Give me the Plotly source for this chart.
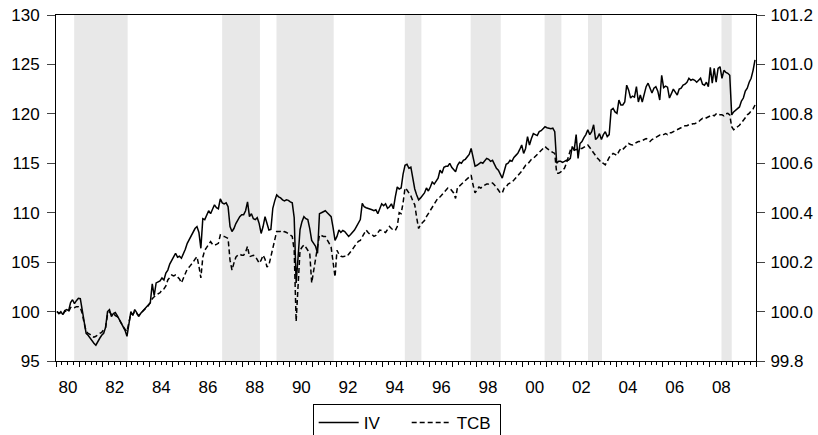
import plotly.graph_objects as go

# Monthly series, 1980M1 .. 2009M12 (one row per year)
iv = [
    100.0, 99.8, 100.0, 99.7, 100.1, 100.2, 100.1, 100.9, 101.2, 100.8, 101.1, 101.35,   # 1980
    101.3, 100.0, 98.8, 97.8, 97.6, 97.3, 97.0, 96.8, 96.6, 97.0, 97.3, 97.6,             # 1981
    97.8, 98.4, 100.0, 100.2, 99.5, 99.8, 99.9, 99.6, 99.2, 98.9, 98.5, 98.1,             # 1982
    97.5, 98.6, 100.0, 99.6, 100.2, 99.9, 99.5, 99.8, 100.0, 100.2, 100.4, 100.7,         # 1983
    100.9, 102.8, 101.6, 102.9, 103.0, 103.1, 103.4, 103.2, 103.9, 104.2, 104.8, 105.2,   # 1984
    105.6, 105.9, 105.5, 105.6, 105.4, 105.8, 106.3, 106.9, 107.3, 107.6, 108.0, 108.4,   # 1985
    108.6, 108.0, 106.4, 109.4, 109.3, 109.7, 110.2, 109.9, 110.4, 110.8, 110.5, 110.4,   # 1986
    111.4, 111.0, 110.9, 111.0, 110.6, 108.6, 108.1, 108.4, 108.9, 109.3, 109.6, 109.8,   # 1987
    109.8, 110.2, 111.1, 109.6, 109.9, 109.4, 109.3, 109.5, 108.9, 107.9, 108.6, 109.6,   # 1988
    108.8, 108.25, 108.3, 110.45, 111.2, 111.8, 111.6, 111.5, 111.3, 111.2, 111.3, 111.25,  # 1989
    111.1, 111.0, 109.5, 102.9, 105.5, 108.3, 109.1, 109.6, 109.4, 109.3, 108.4, 107.2,   # 1990
    106.9, 106.6, 105.9, 109.9, 110.0, 110.1, 110.2, 110.0, 109.8, 109.6, 108.5, 107.2,   # 1991
    107.6, 108.25, 108.0, 108.2, 108.1, 107.9, 107.6, 107.8, 108.0, 108.25, 108.6, 109.0,  # 1992
    109.3, 110.95, 110.6, 110.5, 110.45, 110.4, 110.3, 110.2, 110.3, 109.9, 110.4, 110.9,  # 1993
    110.7, 110.9, 110.45, 110.6, 110.9, 110.4, 111.6, 112.6, 112.4, 112.5, 113.9, 114.8,  # 1994
    114.9, 114.5, 114.6, 113.5, 112.4, 111.8, 111.3, 111.5, 111.7, 112.0, 112.5, 112.2,   # 1995
    112.6, 113.1, 112.9, 113.2, 113.5, 114.3, 114.0, 114.6, 114.7, 114.7, 115.0, 114.6,   # 1996
    114.4, 114.15, 114.8, 115.1, 115.0, 115.3, 115.4, 115.6, 115.9, 116.5, 115.6, 114.7,  # 1997
    114.8, 115.0, 115.1, 115.0, 115.3, 115.5, 115.4, 115.2, 115.3, 114.8, 114.5, 114.3,   # 1998
    113.9, 113.5, 114.2, 114.9, 115.0, 115.3, 115.2, 115.6, 115.8, 116.0, 116.4, 116.85,  # 1999
    116.0, 116.5, 117.7, 116.85, 117.5, 118.0, 117.9, 117.8, 118.2, 118.3, 118.5, 118.7,  # 2000
    118.6, 118.55, 118.5, 118.55, 118.2, 115.0, 115.2, 115.2, 115.1, 115.2, 115.3, 115.3,  # 2001
    115.5, 116.7, 116.3, 117.9, 115.5, 117.0, 117.2, 117.6, 117.9, 118.4, 117.9, 118.2,   # 2002
    118.9, 117.4, 117.6, 118.0, 117.4, 117.9, 118.2, 117.7, 117.9, 120.4, 120.55, 120.2,  # 2003
    120.05, 121.4, 120.9, 120.9, 121.2, 122.9, 122.4, 121.6, 121.8, 121.7, 122.75, 121.2,  # 2004
    121.9, 121.2, 122.0, 122.75, 123.1, 122.6, 122.1, 122.6, 122.75, 122.3, 121.4, 123.9,  # 2005
    122.65, 122.8, 122.7, 121.6, 122.1, 122.5, 122.2, 121.9, 122.5, 122.6, 122.9, 123.0,  # 2006
    123.2, 123.6, 123.4, 123.5, 123.4, 123.2, 123.4, 123.6, 123.0, 122.9, 123.2, 122.75,  # 2007
    124.7, 123.1, 124.6, 123.2, 124.6, 124.77, 123.6, 124.4, 124.2, 124.1, 123.9, 119.9,  # 2008
    120.2, 120.4, 120.6, 120.7, 121.3, 121.6, 122.3, 122.6, 123.2, 123.6, 124.4, 125.45,  # 2009
]

tcb = [
    100.000, 99.992, 99.996, 99.988, 100.000, 100.004, 100.000, 100.016, 100.020, 100.016, 100.020, 100.020,  # 1980
    100.016, 99.992, 99.952, 99.920, 99.912, 99.908, 99.900, 99.896, 99.900, 99.908, 99.912, 99.916,        # 1981
    99.924, 99.936, 99.988, 100.000, 99.988, 99.992, 99.984, 99.980, 99.968, 99.952, 99.940, 99.928,        # 1982
    99.920, 99.956, 99.992, 99.988, 100.000, 99.992, 99.984, 99.992, 100.000, 100.004, 100.012, 100.024,    # 1983
    100.036, 100.052, 100.060, 100.068, 100.072, 100.076, 100.088, 100.092, 100.104, 100.128, 100.140, 100.148,  # 1984
    100.144, 100.148, 100.140, 100.132, 100.116, 100.136, 100.160, 100.172, 100.180, 100.188, 100.200, 100.212,  # 1985
    100.222, 100.184, 100.136, 100.220, 100.248, 100.260, 100.272, 100.283, 100.272, 100.268, 100.272, 100.276,  # 1986
    100.310, 100.304, 100.304, 100.300, 100.296, 100.208, 100.168, 100.196, 100.220, 100.228, 100.232, 100.228,  # 1987
    100.228, 100.240, 100.264, 100.222, 100.224, 100.228, 100.224, 100.212, 100.196, 100.208, 100.228, 100.212,  # 1988
    100.180, 100.188, 100.224, 100.260, 100.296, 100.324, 100.324, 100.324, 100.320, 100.324, 100.320, 100.316,  # 1989
    100.310, 100.304, 100.248, 99.960, 100.116, 100.248, 100.260, 100.270, 100.260, 100.248, 100.236, 100.116,   # 1990
    100.168, 100.222, 100.260, 100.310, 100.308, 100.304, 100.304, 100.292, 100.276, 100.260, 100.200, 100.140,  # 1991
    100.248, 100.232, 100.224, 100.222, 100.224, 100.222, 100.232, 100.240, 100.252, 100.264, 100.276, 100.284,  # 1992
    100.288, 100.304, 100.320, 100.330, 100.320, 100.312, 100.312, 100.304, 100.308, 100.320, 100.330, 100.328,  # 1993
    100.324, 100.320, 100.332, 100.344, 100.336, 100.330, 100.328, 100.344, 100.400, 100.396, 100.440, 100.500,  # 1994
    100.492, 100.480, 100.468, 100.448, 100.432, 100.380, 100.336, 100.352, 100.360, 100.368, 100.384, 100.396,  # 1995
    100.408, 100.424, 100.436, 100.448, 100.460, 100.464, 100.472, 100.480, 100.492, 100.500, 100.500, 100.492,  # 1996
    100.480, 100.458, 100.504, 100.508, 100.516, 100.520, 100.528, 100.536, 100.544, 100.552, 100.512, 100.480,  # 1997
    100.492, 100.504, 100.500, 100.508, 100.512, 100.516, 100.516, 100.520, 100.520, 100.512, 100.504, 100.492,  # 1998
    100.480, 100.480, 100.500, 100.504, 100.516, 100.520, 100.524, 100.532, 100.540, 100.552, 100.556, 100.568,  # 1999
    100.580, 100.592, 100.596, 100.608, 100.616, 100.620, 100.628, 100.636, 100.644, 100.656, 100.664, 100.668,  # 2000
    100.660, 100.654, 100.648, 100.644, 100.640, 100.560, 100.560, 100.564, 100.572, 100.580, 100.600, 100.632,  # 2001
    100.652, 100.648, 100.652, 100.656, 100.652, 100.660, 100.660, 100.664, 100.668, 100.674, 100.664, 100.652,  # 2002
    100.640, 100.632, 100.620, 100.612, 100.600, 100.600, 100.594, 100.608, 100.624, 100.632, 100.640, 100.636,  # 2003
    100.632, 100.648, 100.660, 100.656, 100.664, 100.674, 100.680, 100.676, 100.674, 100.680, 100.684, 100.688,  # 2004
    100.688, 100.692, 100.696, 100.700, 100.696, 100.688, 100.696, 100.700, 100.704, 100.708, 100.714, 100.712,  # 2005
    100.716, 100.720, 100.716, 100.724, 100.724, 100.728, 100.732, 100.736, 100.740, 100.744, 100.748, 100.752,  # 2006
    100.752, 100.756, 100.756, 100.760, 100.760, 100.764, 100.768, 100.776, 100.782, 100.780, 100.784, 100.788,  # 2007
    100.792, 100.796, 100.792, 100.800, 100.802, 100.796, 100.796, 100.792, 100.800, 100.802, 100.796, 100.748,  # 2008
    100.736, 100.740, 100.748, 100.754, 100.764, 100.772, 100.784, 100.796, 100.802, 100.812, 100.820, 100.836,  # 2009
]

# Shaded periods (start, end) in decimal years
bands = [
    (1980.78, 1983.07), (1987.12, 1988.74), (1989.45, 1991.90), (1994.95, 1995.66),
    (1997.77, 1999.06), (2000.94, 2001.66), (2002.80, 2003.40), (2008.52, 2008.96),
]

first_year, last_year = 1980, 2010
year_labels = ["80", "82", "84", "86", "88", "90", "92", "94",
               "96", "98", "00", "02", "04", "06", "08"]

# month-centred time positions
t = [first_year + (i + 0.5) / 12 for i in range(len(iv))]

years = list(range(first_year, last_year + 1))
ticktext = []
label_iter = iter(year_labels)
for y in years:
    ticktext.append(next(label_iter) if (y % 2 == 0 and y < last_year) else "")
quarters = [y + q / 4 for y in range(first_year, last_year) for q in (1, 2, 3)]

FONT = "Liberation Sans, Arial, sans-serif"
FSIZE = 17

fig = go.Figure()
fig.add_trace(go.Scatter(x=t, y=iv, name="IV", mode="lines",
                         line=dict(color="black", width=1.5)))
fig.add_trace(go.Scatter(x=t, y=tcb, name="TCB", mode="lines", yaxis="y2",
                         line=dict(color="black", width=1.5, dash="5px,3px")))

for x0, x1 in bands:
    fig.add_shape(type="rect", xref="x", yref="paper", x0=x0, x1=x1, y0=0, y1=1,
                  fillcolor="#E8E8E8", line=dict(width=0), layer="below")

fig.update_layout(
    width=818, height=435,
    margin=dict(l=56, r=62, t=15, b=74, autoexpand=False),
    plot_bgcolor="white", paper_bgcolor="white",
    font=dict(family=FONT, size=FSIZE, color="black"),
    showlegend=True,
    legend=dict(orientation="h", x=0.3667, xanchor="left", y=-0.124, yanchor="top",
                bordercolor="black", borderwidth=1, bgcolor="white",
                font=dict(family=FONT, size=FSIZE), itemwidth=40,
                entrywidth=38, entrywidthmode="pixels", tracegroupgap=0),
    xaxis=dict(range=[first_year, last_year], tickmode="array", tickvals=years,
               ticktext=ticktext, ticks="outside", ticklen=5, tickcolor="black",
               ticklabelshift=12, ticklabelstandoff=6, showline=True,
               linecolor="black", linewidth=1,
               mirror=True, showgrid=False, zeroline=False,
               minor=dict(tickmode="array", tickvals=quarters, ticks="outside",
                          ticklen=3, tickcolor="black", showgrid=False)),
    yaxis=dict(range=[95, 130], dtick=5, tick0=95, ticks="outside", ticklen=8,
               tickcolor="#444", showline=True, linecolor="black", linewidth=1,
               ticklabelstandoff=4, showgrid=False, zeroline=False),
    yaxis2=dict(range=[99.8, 101.2], dtick=0.2, tick0=99.8, tickformat=".1f",
                overlaying="y", side="right", ticks="outside", ticklen=8,
                tickcolor="#444", showline=True, linecolor="black", linewidth=1,
                ticklabelstandoff=2, showgrid=False, zeroline=False),
)

fig.write_html("out.html")
